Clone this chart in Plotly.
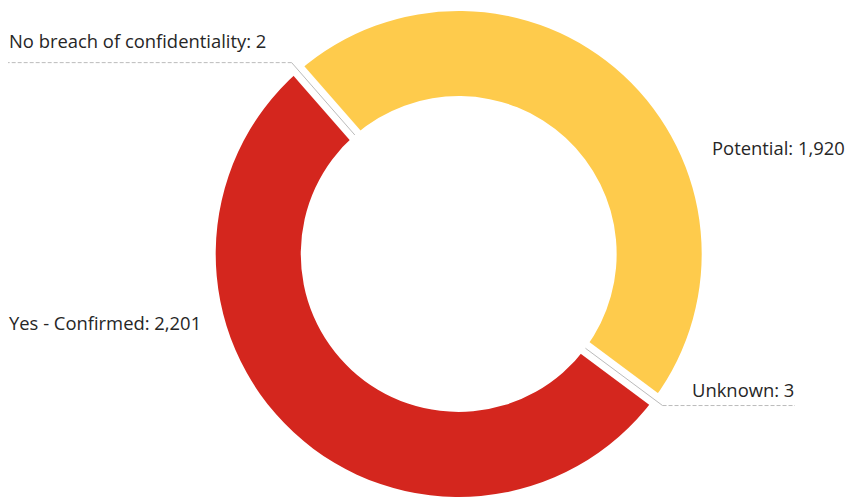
import math
import plotly.graph_objects as go

# ---- data ----
labels = ["No breach of confidentiality", "Potential", "Unknown", "Yes - Confirmed"]
values = [2, 1920, 3, 2201]
colors = ["#BDBDBD", "#FECB4C", "#BDBDBD", "#D4261E"]

# ---- geometry / style ----
W, H = 848, 497
CX, CY, R = 458.7, 254.0, 243.0
HOLE = 0.65
ROTATION = -41.2
GAP = 14.5
LEADER_R = 254.0
TEXT_COLOR = "#262626"
LINE_COLOR = "#BBBBBB"
FONT = "Open Sans"
FSIZE = 18.4

total = float(sum(values))
mids = []
acc = 0.0
for v in values:
    mids.append(ROTATION + (acc + v / 2.0) / total * 360.0)
    acc += v


def pt(angle_deg, r):
    a = math.radians(angle_deg)
    return CX + r * math.sin(a), CY - r * math.cos(a)


def px2paper(x, y):
    return x / W, 1 - y / H


fig = go.Figure()
fig.add_trace(go.Pie(
    labels=labels,
    values=values,
    sort=False,
    direction="clockwise",
    rotation=ROTATION,
    hole=HOLE,
    textinfo="none",
    marker=dict(colors=colors, line=dict(width=0)),
    domain=dict(x=[(CX - R) / W, (CX + R) / W], y=[1 - (CY + R) / H, 1 - (CY - R) / H]),
    showlegend=False,
    hoverinfo="label+value",
))

shapes = []
small = [i for i, v in enumerate(values) if v / total < 0.01]
# white separators at small slices + leader lines
leader_end_x = {0: 8.0, 2: 795.0}
for i in small:
    x0, y0 = pt(mids[i], HOLE * R - 6)
    x1, y1 = pt(mids[i], R + 6)
    a0, b0 = px2paper(x0, y0)
    a1, b1 = px2paper(x1, y1)
    shapes.append(dict(type="line", xref="paper", yref="paper", x0=a0, y0=b0, x1=a1, y1=b1,
                       line=dict(color="white", width=GAP)))
for i in small:
    x0, y0 = pt(mids[i], HOLE * R)
    x1, y1 = pt(mids[i], LEADER_R)
    a0, b0 = px2paper(x0, y0)
    a1, b1 = px2paper(x1, y1)
    shapes.append(dict(type="line", xref="paper", yref="paper", x0=a0, y0=b0, x1=a1, y1=b1,
                       line=dict(color=LINE_COLOR, width=1)))
    a2, b2 = px2paper(leader_end_x[i], y1)
    shapes.append(dict(type="line", xref="paper", yref="paper", x0=a1, y0=b1, x1=a2, y1=b1,
                       line=dict(color=LINE_COLOR, width=1, dash="4px,2px")))

# label placement (pixel positions of label anchors)
label_pos = {
    0: (7.0, 41.0, "left"),
    1: (847.0, 148.0, "right"),
    2: (796.0, 389.0, "right"),
    3: (7.0, 322.0, "left"),
}
annotations = []
for i, (x, y, anchor) in label_pos.items():
    ax, ay = px2paper(x, y)
    annotations.append(dict(
        x=ax, y=ay, xref="paper", yref="paper", xanchor=anchor, yanchor="middle",
        text=f"{labels[i]}: {values[i]:,}", showarrow=False,
        font=dict(family=FONT, size=FSIZE, color=TEXT_COLOR),
    ))

fig.update_layout(
    width=W, height=H,
    margin=dict(l=0, r=0, t=0, b=0),
    paper_bgcolor="white", plot_bgcolor="white",
    shapes=shapes, annotations=annotations,
    font=dict(family=FONT, size=FSIZE, color=TEXT_COLOR),
)

fig.write_html("out.html", config={"displayModeBar": False},
               post_script="document.body.style.margin='0';")
